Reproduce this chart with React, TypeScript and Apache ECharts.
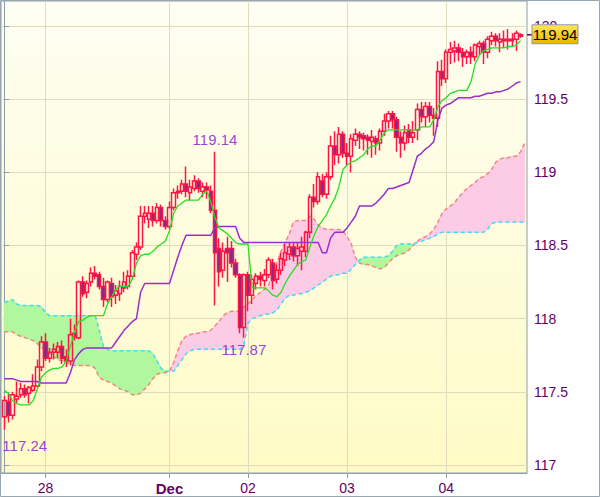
import React, { useEffect, useRef } from 'react';
import * as echarts from 'echarts';

// hourly candles, index 0..125
const openP = [117.33,117.43,117.34,117.45,117.48,117.52,117.49,117.51,117.54,117.67,117.84,117.73,117.77,117.77,117.81,117.74,117.71,117.90,117.87,118.25,118.18,118.25,118.31,118.30,118.22,118.13,118.24,118.16,118.17,118.21,118.22,118.29,118.44,118.49,118.70,118.68,118.72,118.67,118.76,118.67,118.63,118.76,118.86,118.87,118.92,118.86,118.89,118.94,118.87,118.90,118.87,118.74,118.48,118.33,118.48,118.48,118.38,118.30,117.94,118.30,118.16,118.24,118.29,118.26,118.30,118.38,118.27,118.33,118.40,118.44,118.49,118.43,118.46,118.46,118.59,118.83,118.80,118.94,118.85,118.97,119.18,119.12,119.26,119.13,119.11,119.22,119.26,119.25,119.24,119.21,119.23,119.20,119.28,119.35,119.40,119.36,119.24,119.20,119.29,119.24,119.29,119.43,119.38,119.45,119.39,119.37,119.69,119.64,119.82,119.83,119.85,119.82,119.79,119.82,119.79,119.86,119.88,119.82,119.90,119.93,119.89,119.90,119.90,119.90,119.91,119.93];
const closeP = [117.44,117.34,117.48,117.47,117.52,117.48,117.53,117.54,117.67,117.84,117.73,117.77,117.79,117.81,117.73,117.71,117.89,117.88,118.25,118.17,118.24,118.31,118.29,118.22,118.13,118.25,118.15,118.19,118.22,118.25,118.29,118.45,118.49,118.70,118.72,118.72,118.67,118.76,118.67,118.63,118.76,118.86,118.87,118.92,118.87,118.90,118.94,118.89,118.90,118.88,118.74,118.45,118.32,118.46,118.45,118.38,118.30,117.94,118.30,118.16,118.27,118.29,118.27,118.30,118.40,118.26,118.33,118.41,118.45,118.49,118.43,118.48,118.49,118.59,118.83,118.80,118.97,118.85,118.97,119.18,119.12,119.26,119.13,119.11,119.23,119.26,119.24,119.23,119.22,119.24,119.20,119.28,119.35,119.40,119.36,119.24,119.20,119.27,119.24,119.27,119.43,119.38,119.45,119.39,119.37,119.69,119.64,119.82,119.84,119.85,119.82,119.79,119.82,119.79,119.87,119.88,119.82,119.91,119.93,119.90,119.91,119.91,119.91,119.91,119.95,119.94];
const lowP = [117.24,117.29,117.31,117.42,117.46,117.46,117.42,117.50,117.53,117.64,117.71,117.70,117.72,117.73,117.69,117.67,117.68,117.85,117.86,118.15,118.14,118.22,118.27,118.20,118.08,118.11,118.08,118.10,118.12,118.18,118.20,118.27,118.40,118.47,118.65,118.62,118.63,118.65,118.63,118.61,118.61,118.74,118.82,118.85,118.83,118.81,118.87,118.86,118.83,118.82,118.72,118.09,118.22,118.28,118.25,118.35,118.28,117.90,117.87,118.05,118.10,118.20,118.22,118.22,118.28,118.20,118.24,118.30,118.36,118.40,118.39,118.36,118.33,118.42,118.55,118.76,118.78,118.83,118.82,118.95,119.05,119.06,119.10,119.05,119.00,119.18,119.16,119.15,119.12,119.10,119.12,119.15,119.25,119.30,119.30,119.14,119.10,119.15,119.20,119.20,119.22,119.34,119.31,119.34,119.25,119.31,119.59,119.61,119.74,119.75,119.76,119.72,119.74,119.74,119.76,119.80,119.74,119.78,119.87,119.86,119.82,119.85,119.84,119.86,119.83,119.92];
const highP = [117.47,117.49,117.50,117.57,117.56,117.55,117.54,117.62,117.72,117.88,117.90,117.80,117.83,117.84,117.85,117.79,118.00,117.96,118.26,118.29,118.26,118.35,118.36,118.32,118.28,118.26,118.28,118.23,118.26,118.32,118.33,118.47,118.52,118.77,118.77,118.77,118.77,118.79,118.78,118.70,118.80,118.89,118.91,118.95,119.04,118.95,118.98,118.96,118.93,118.93,118.91,119.14,118.55,118.52,118.56,118.53,118.41,118.31,118.31,118.32,118.30,118.31,118.32,118.34,118.42,118.41,118.37,118.45,118.51,118.52,118.52,118.52,118.56,118.60,118.85,118.92,119.00,118.99,119.00,119.25,119.28,119.31,119.28,119.20,119.26,119.30,119.28,119.27,119.26,119.29,119.25,119.30,119.40,119.42,119.42,119.38,119.28,119.32,119.33,119.35,119.47,119.48,119.48,119.48,119.44,119.76,119.77,119.84,119.89,119.90,119.88,119.85,119.84,119.86,119.88,119.90,119.90,119.93,119.96,119.95,119.95,119.97,119.98,119.95,119.97,119.95];

// conversion line (green), base line (purple)
const tenkan = [117.51,117.49,117.44,117.42,117.41,117.41,117.41,117.44,117.52,117.60,117.63,117.65,117.66,117.66,117.67,117.71,117.81,117.91,117.98,117.99,118.01,118.02,118.02,118.02,118.02,118.10,118.15,118.20,118.22,118.22,118.22,118.27,118.38,118.43,118.44,118.44,118.46,118.49,118.51,118.53,118.60,118.72,118.77,118.79,118.81,118.81,118.81,118.81,118.85,118.87,118.80,118.69,118.62,118.60,118.58,118.55,118.52,118.51,118.51,118.51,118.21,118.21,118.21,118.21,118.19,118.16,118.15,118.18,118.24,118.29,118.33,118.37,118.39,118.40,118.49,118.57,118.63,118.67,118.71,118.77,118.82,118.90,119.02,119.05,119.07,119.08,119.10,119.12,119.16,119.18,119.18,119.22,119.27,119.29,119.29,119.29,119.29,119.29,119.29,119.29,119.29,119.31,119.31,119.31,119.36,119.45,119.49,119.51,119.54,119.55,119.56,119.56,119.56,119.62,119.74,119.80,119.83,119.84,119.85,119.85,119.85,119.85,119.86,119.86,119.87,119.90];
const kijun = [117.59,117.59,117.59,117.58,117.57,117.57,117.57,117.57,117.57,117.56,117.56,117.56,117.56,117.56,117.56,117.56,117.63,117.72,117.76,117.79,117.80,117.80,117.80,117.80,117.80,117.80,117.80,117.84,117.88,117.92,117.95,117.98,118.00,118.18,118.24,118.24,118.24,118.24,118.24,118.24,118.24,118.33,118.42,118.50,118.57,118.57,118.57,118.57,118.57,118.57,118.57,118.62,118.63,118.63,118.63,118.63,118.63,118.55,118.52,118.52,118.52,118.52,118.52,118.52,118.52,118.52,118.52,118.52,118.52,118.52,118.52,118.52,118.52,118.52,118.52,118.52,118.52,118.45,118.45,118.55,118.59,118.59,118.59,118.62,118.66,118.70,118.77,118.77,118.77,118.77,118.79,118.82,118.85,118.89,118.89,118.90,118.91,118.92,118.93,119.02,119.11,119.13,119.16,119.18,119.21,119.36,119.44,119.46,119.47,119.49,119.51,119.51,119.51,119.51,119.52,119.52,119.53,119.54,119.54,119.55,119.55,119.56,119.57,119.59,119.61,119.62];

// leading spans, index 0..126
const senkouA = [117.91,117.91,117.91,117.89,117.88,117.87,117.86,117.85,117.83,117.80,117.78,117.76,117.74,117.72,117.71,117.70,117.69,117.68,117.68,117.68,117.68,117.68,117.66,117.60,117.58,117.57,117.56,117.54,117.52,117.51,117.50,117.48,117.48,117.49,117.52,117.55,117.59,117.62,117.63,117.63,117.64,117.70,117.78,117.85,117.88,117.89,117.90,117.90,117.91,117.91,117.92,117.95,117.98,118.02,118.04,118.05,118.05,118.05,118.08,118.10,118.13,118.16,118.18,118.20,118.23,118.30,118.38,118.46,118.52,118.58,118.66,118.67,118.67,118.67,118.70,118.68,118.64,118.62,118.61,118.61,118.61,118.61,118.60,118.56,118.51,118.42,118.38,118.37,118.37,118.36,118.35,118.34,118.35,118.38,118.41,118.43,118.44,118.45,118.47,118.50,118.53,118.55,118.56,118.58,118.61,118.66,118.72,118.75,118.77,118.79,118.83,118.86,118.89,118.91,118.93,118.96,118.97,118.99,119.02,119.07,119.09,119.10,119.10,119.11,119.11,119.14,119.20];
const senkouB = [118.11,118.12,118.13,118.10,118.09,118.09,118.09,118.09,118.09,118.08,118.04,118.02,118.02,118.02,118.02,118.02,118.02,118.02,118.02,118.02,118.02,118.02,118.02,117.92,117.81,117.79,117.78,117.78,117.78,117.78,117.78,117.78,117.78,117.78,117.78,117.78,117.76,117.71,117.66,117.64,117.64,117.64,117.68,117.72,117.76,117.78,117.79,117.79,117.79,117.79,117.79,117.79,117.79,117.79,117.79,117.79,117.79,117.79,117.82,117.97,118.00,118.01,118.02,118.03,118.03,118.04,118.06,118.10,118.14,118.16,118.16,118.17,118.17,118.18,118.19,118.21,118.23,118.25,118.27,118.29,118.30,118.30,118.31,118.31,118.34,118.37,118.40,118.42,118.42,118.42,118.42,118.42,118.42,118.43,118.46,118.50,118.51,118.51,118.51,118.51,118.52,118.53,118.54,118.55,118.56,118.58,118.59,118.59,118.59,118.59,118.59,118.59,118.59,118.59,118.59,118.59,118.59,118.61,118.65,118.66,118.66,118.66,118.66,118.66,118.66,118.66,118.66,118.66];

const tickIdx = [10, 40, 59, 83, 107];
const tickLabels = ['28', 'Dec', '02', '03', '04'];
const yTicks = [117, 117.5, 118, 118.5, 119, 119.5, 120];
const annIdx = [51, 58, 0];
const annVal = [119.14, 117.87, 117.24];
const lastPrice = 119.94;

const FONT = "'Liberation Sans', Arial, sans-serif";
const PINK = '#FCCCE6';
const GREEN = '#B1F79E';

export default function App() {
  const ref = useRef<HTMLDivElement>(null);
  useEffect(() => {
    document.body.style.margin = '0';
    const chart = echarts.init(ref.current!, null, { renderer: 'svg' });

    const candles = openP.map((o, i) => [i, o, closeP[i], lowP[i], highP[i]]);
    const idx = senkouA.map((_, i) => i);
    // one cloud segment per pair of neighbouring points
    const cloudSeg = idx.slice(0, -1).map((i) => [i, senkouA[i], senkouB[i], senkouA[i + 1], senkouB[i + 1]]);

    const poly = (points: number[][], fill: string) => ({
      type: 'polygon', shape: { points },
      style: { fill, stroke: fill, lineWidth: 1 },
    });

    const renderCloud = (params: any, api: any) => {
      const i = api.value(0);
      const a0 = api.value(1), b0 = api.value(2), a1 = api.value(3), b1 = api.value(4);
      const pA0 = api.coord([i, a0]), pB0 = api.coord([i, b0]);
      const pA1 = api.coord([i + 1, a1]), pB1 = api.coord([i + 1, b1]);
      const d0 = a0 - b0, d1 = a1 - b1;
      const children: any[] = [];
      if (d0 * d1 < 0) {
        const t = d0 / (d0 - d1);
        const pX = api.coord([i + t, a0 + (a1 - a0) * t]);
        children.push(poly([pA0, pX, pB0], d0 > 0 ? PINK : GREEN));
        children.push(poly([pX, pA1, pB1], d1 > 0 ? PINK : GREEN));
      } else {
        children.push(poly([pA0, pA1, pB1, pB0], d0 + d1 >= 0 ? PINK : GREEN));
      }
      return { type: 'group', children };
    };

    const labelPos: any[] = [
      { position: 'top', distance: 5 },
      { position: 'bottom', distance: 4 },
      { position: [-2, 8], align: 'left', verticalAlign: 'top' },
    ];

    const option: any = {
      animation: false,
      grid: {
        left: 1, right: 73, top: 1, bottom: 24,
        show: true,
        borderColor: '#8E9DA8', borderWidth: 1,
        backgroundColor: {
          type: 'linear', x: 0, y: 0, x2: 0, y2: 1,
          colorStops: [
            { offset: 0, color: '#FEFEF3' },
            { offset: 1, color: '#FFFBC6' },
          ],
        },
      },
      xAxis: {
        type: 'value', min: -0.8, max: 126.56,
        axisLine: { show: true, lineStyle: { color: '#8E9DA8' } },
        axisTick: { show: true, length: 5, customValues: tickIdx, lineStyle: { color: '#8E9DA8' } },
        splitLine: { show: true, lineStyle: { color: '#DEDCBA', width: 1 } },
        axisLabel: {
          customValues: tickIdx,
          margin: 8,
          color: '#660066', fontSize: 14, fontFamily: FONT,
          formatter: (v: number) => {
            const k = tickIdx.indexOf(Math.round(v));
            const t = k >= 0 ? tickLabels[k] : '';
            return t === 'Dec' ? '{b|Dec}' : t;
          },
          rich: { b: { fontWeight: 'bold', fontSize: 15, color: '#660066', fontFamily: FONT } },
        },
      },
      yAxis: {
        type: 'value', position: 'right', min: 116.945, max: 120.171,
        axisLine: { show: true, lineStyle: { color: '#8E9DA8' } },
        axisTick: { show: true, length: 5, customValues: yTicks, lineStyle: { color: '#8E9DA8' } },
        splitLine: { show: true, lineStyle: { color: '#DEDCBA', width: 1 } },
        axisLabel: {
          customValues: yTicks, margin: 7,
          color: '#660066', fontSize: 14, fontFamily: FONT,
          formatter: (v: number) => String(v),
        },
      },
      series: [
        {
          type: 'custom', data: cloudSeg, renderItem: renderCloud, silent: true, z: 1, clip: true,
          encode: { x: 0, y: [1, 2] },
        },
        {
          type: 'line', data: idx.map((i) => [i, senkouA[i]]), symbol: 'none', silent: true, z: 2,
          lineStyle: { color: '#F2857C', width: 1.5, type: [4, 3] },
        },
        {
          type: 'line', data: idx.map((i) => [i, senkouB[i]]), symbol: 'none', silent: true, z: 2,
          lineStyle: { color: '#3EDDF2', width: 1.5, type: [4, 3] },
        },
        {
          type: 'candlestick', data: candles, encode: { x: 0, y: [1, 2, 3, 4] },
          barWidth: 3.9, silent: true, z: 3,
          itemStyle: {
            color: 'transparent', color0: '#7B2C90',
            borderColor: '#FF1443', borderColor0: '#FF1443', borderWidth: 1.5,
          },
        },
        {
          type: 'line', data: kijun.map((v, i) => [i, v]), symbol: 'none', silent: true, z: 4,
          lineStyle: { color: '#9A2ECC', width: 1.5 },
        },
        {
          type: 'line', data: tenkan.map((v, i) => [i, v]), symbol: 'none', silent: true, z: 4,
          lineStyle: { color: '#22E022', width: 1.3 },
        },
        {
          type: 'scatter', symbolSize: 0, silent: true, z: 5,
          data: annIdx.map((i, k) => ({
            value: [i, annVal[k]],
            label: {
              show: true, formatter: annVal[k].toFixed(2),
              color: '#8010D0', fontSize: 15, fontFamily: FONT,
              ...labelPos[k],
            },
          })),
        },
      ],
    };
    chart.setOption(option);
    const py = chart.convertToPixel({ yAxisIndex: 0 }, lastPrice) as number;
    const px = chart.convertToPixel({ xAxisIndex: 0 }, 126.56) as number;
    chart.setOption({
      graphic: [
        {
          id: 'outer', type: 'rect', silent: true, z: 100,
          shape: { x: 0.5, y: 0.5, width: 599, height: 496 },
          style: { fill: 'none', stroke: '#98A6B0', lineWidth: 1 },
        },
        {
          id: 'pxTick', type: 'line', silent: true, z: 100,
          shape: { x1: px, y1: py, x2: px + 5, y2: py },
          style: { stroke: '#660066', lineWidth: 1.5 },
        },
        {
          id: 'pxBox', type: 'rect', silent: true, z: 100,
          shape: { x: px + 5, y: py - 10, width: 46, height: 19 },
          style: {
            stroke: '#8A99A5', lineWidth: 1,
            fill: new echarts.graphic.LinearGradient(0, 0, 0, 1, [
              { offset: 0, color: '#FFE85C' },
              { offset: 1, color: '#F0B400' },
            ]),
          },
        },
        {
          id: 'pxText', type: 'text', silent: true, z: 101,
          x: px + 28, y: py,
          style: {
            text: lastPrice.toFixed(2), fill: '#000', fontSize: 15, fontFamily: FONT,
            align: 'center', verticalAlign: 'middle',
          },
        },
      ],
    });
    return () => chart.dispose();
  }, []);
  return <div ref={ref} style={{ width: 600, height: 497 }} />;
}
